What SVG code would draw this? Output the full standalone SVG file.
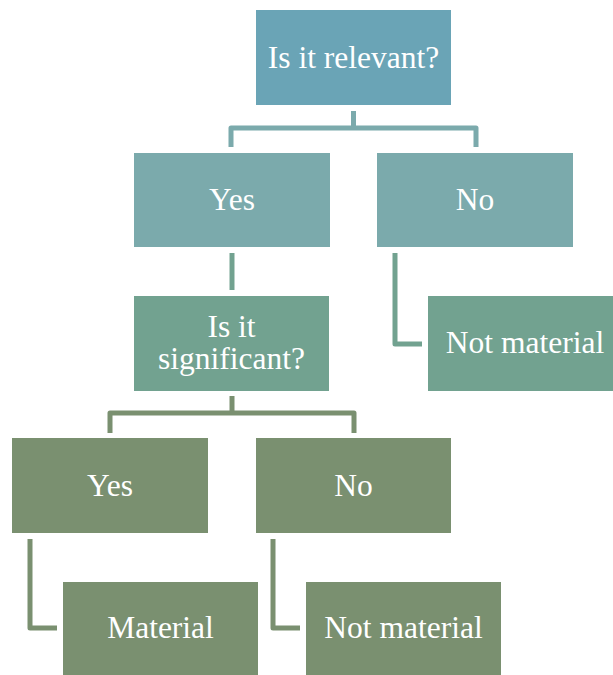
<svg xmlns="http://www.w3.org/2000/svg" width="613" height="675" viewBox="0 0 613 675">
<style>
text{font-family:"Liberation Serif","Times New Roman",serif;font-size:31.5px;fill:#ffffff;text-anchor:middle}
.c{fill:none;stroke-width:5;stroke-linejoin:round;stroke-linecap:butt}
.l1{fill:#6aa4b6}.l2{fill:#7baaac}.l3{fill:#72a290}.l4{fill:#7a9070}
</style>
<rect width="613" height="675" fill="#ffffff"/>
<g id="connectors">
<path class="c" stroke="#7baaac" d="M353.5,111 V128 M231,147 V128 H476 V147"/>
<path class="c" stroke="#72a290" d="M232,253 V290"/>
<path class="c" stroke="#72a290" d="M395,253 V344 H422"/>
<path class="c" stroke="#7a9070" d="M232,396 V413 M110,433 V413 H354 V433"/>
<path class="c" stroke="#7a9070" d="M30,539 V628 H57"/>
<path class="c" stroke="#7a9070" d="M273,539 V628 H300"/>
</g>
<g id="n_relevant"><rect class="l1" x="256" y="10" width="195" height="95"/><text x="353.5" y="68">Is it relevant?</text></g>
<g id="n_yes1"><rect class="l2" x="134" y="153" width="196" height="94"/><text x="232" y="210">Yes</text></g>
<g id="n_no1"><rect class="l2" x="377" y="153" width="196" height="94"/><text x="475" y="210">No</text></g>
<g id="n_significant"><rect class="l3" x="134" y="296" width="195" height="95"/><text x="231.5" y="337">Is it</text><text x="231.5" y="369">significant?</text></g>
<g id="n_notmat1"><rect class="l3" x="428" y="296" width="195" height="95"/><text x="525" y="353">Not material</text></g>
<g id="n_yes2"><rect class="l4" x="12" y="438" width="196" height="95"/><text x="110" y="496">Yes</text></g>
<g id="n_no2"><rect class="l4" x="256" y="438" width="195" height="95"/><text x="353.5" y="496">No</text></g>
<g id="n_material"><rect class="l4" x="63" y="582" width="195" height="94"/><text x="160.5" y="638">Material</text></g>
<g id="n_notmat2"><rect class="l4" x="306" y="582" width="195" height="94"/><text x="403.5" y="638">Not material</text></g>
</svg>
